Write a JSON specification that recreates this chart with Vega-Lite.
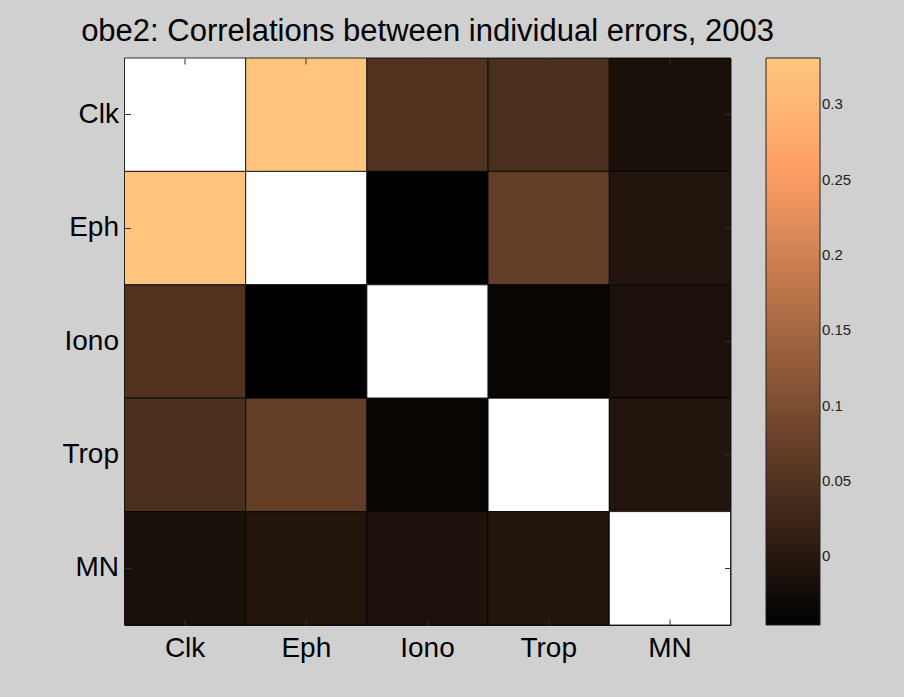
{
  "$schema": "https://vega.github.io/schema/vega-lite/v6.json",
  "autosize": {"type": "none"},
  "width": 606,
  "height": 567,
  "padding": {"left": 124.5, "top": 58, "right": 173.5, "bottom": 72},
  "background": "#d0d0d0",
  "title": {
    "text": "obe2: Correlations between individual errors, 2003",
    "font": "Liberation Sans",
    "fontSize": 31,
    "fontWeight": "normal",
    "color": "#000000",
    "frame": "group",
    "anchor": "middle",
    "baseline": "alphabetic",
    "offset": 15,
    "dy": 29
  },
  "config": {
    "view": {"stroke": "#222222", "strokeWidth": 1},
    "axis": {
      "labelFont": "Liberation Sans",
      "labelFontSize": 28,
      "labelColor": "#000000",
      "labelAngle": 0,
      "domain": false,
      "grid": false,
      "tickColor": "#333333",
      "tickSize": -6,
      "title": null
    }
  },
  "data": {
    "values": [
      {"r": "Clk", "c": "Clk", "v": 1},
      {"r": "Clk", "c": "Eph", "v": 0.327},
      {"r": "Clk", "c": "Iono", "v": 0.051},
      {"r": "Clk", "c": "Trop", "v": 0.042},
      {"r": "Clk", "c": "MN", "v": -0.015},
      {"r": "Eph", "c": "Clk", "v": 0.327},
      {"r": "Eph", "c": "Eph", "v": 1},
      {"r": "Eph", "c": "Iono", "v": -0.045},
      {"r": "Eph", "c": "Trop", "v": 0.071},
      {"r": "Eph", "c": "MN", "v": -0.008},
      {"r": "Iono", "c": "Clk", "v": 0.051},
      {"r": "Iono", "c": "Eph", "v": -0.045},
      {"r": "Iono", "c": "Iono", "v": 1},
      {"r": "Iono", "c": "Trop", "v": -0.036},
      {"r": "Iono", "c": "MN", "v": -0.014},
      {"r": "Trop", "c": "Clk", "v": 0.042},
      {"r": "Trop", "c": "Eph", "v": 0.071},
      {"r": "Trop", "c": "Iono", "v": -0.036},
      {"r": "Trop", "c": "Trop", "v": 1},
      {"r": "Trop", "c": "MN", "v": -0.007},
      {"r": "MN", "c": "Clk", "v": -0.015},
      {"r": "MN", "c": "Eph", "v": -0.008},
      {"r": "MN", "c": "Iono", "v": -0.014},
      {"r": "MN", "c": "Trop", "v": -0.007},
      {"r": "MN", "c": "MN", "v": 1}
    ]
  },
  "layer": [
    {
      "mark": {"type": "rect", "stroke": "#000000", "strokeWidth": 1, "strokeOpacity": 0.8},
      "encoding": {
        "x": {
          "field": "c", "type": "nominal",
          "sort": ["Clk", "Eph", "Iono", "Trop", "MN"],
          "scale": {"paddingInner": 0, "paddingOuter": 0},
          "axis": {"orient": "bottom", "labelPadding": 15}
        },
        "y": {
          "field": "r", "type": "nominal",
          "sort": ["Clk", "Eph", "Iono", "Trop", "MN"],
          "scale": {"paddingInner": 0, "paddingOuter": 0},
          "axis": {"orient": "left", "labelPadding": 12}
        },
        "color": {
          "condition": {"test": "datum.v >= 1", "value": "#ffffff"},
          "field": "v",
          "type": "quantitative",
          "scale": {
            "type": "linear",
            "domain": [-0.0456, 0.3307],
            "range": ["#000000", "#402819", "#805033", "#bf774c", "#ff9f65", "#ffc77f"],
            "interpolate": "rgb",
            "clamp": true
          },
          "legend": {
            "orient": "none",
            "legendX": 641.5,
            "legendY": 0,
            "direction": "vertical",
            "title": null,
            "padding": 0,
            "gradientLength": 567,
            "gradientThickness": 54,
            "gradientStrokeColor": "#222222",
            "gradientStrokeWidth": 1,
            "values": [0, 0.05, 0.1, 0.15, 0.2, 0.25, 0.3],
            "format": "~g",
            "labelFont": "Liberation Sans",
            "labelFontSize": 15,
            "labelColor": "#222222",
            "labelOffset": 2,
            "labelBaseline": "middle",
            "labelOverlap": false
          }
        }
      }
    },
    {
      "mark": {"type": "rect", "opacity": 0},
      "encoding": {
        "x": {
          "field": "c", "type": "nominal",
          "sort": ["Clk", "Eph", "Iono", "Trop", "MN"],
          "axis": {"orient": "top", "labels": false}
        },
        "y": {
          "field": "r", "type": "nominal",
          "sort": ["Clk", "Eph", "Iono", "Trop", "MN"],
          "axis": {"orient": "right", "labels": false}
        }
      }
    }
  ],
  "resolve": {"axis": {"x": "independent", "y": "independent"}}
}
